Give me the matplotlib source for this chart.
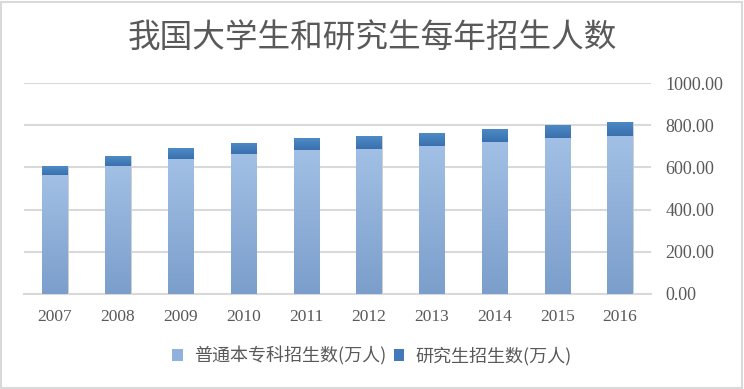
import matplotlib.pyplot as plt
import numpy as np
from matplotlib.patches import Rectangle

plt.rcParams['font.family'] = ['Noto Sans CJK SC', 'DejaVu Sans']

years = ['2007', '2008', '2009', '2010', '2011', '2012', '2013', '2014', '2015', '2016']
undergrad = [565.9, 607.7, 639.5, 661.8, 681.5, 688.8, 699.8, 721.4, 737.8, 748.6]
graduate = [41.9, 44.6, 51.1, 53.8, 56.0, 59.0, 61.1, 62.1, 64.5, 66.7]
yticks = [0, 200, 400, 600, 800, 1000]

fig = plt.figure(figsize=(7.44, 3.89), dpi=100)
ax = fig.add_axes([23.6 / 744, 1 - 294 / 389, (651.4 - 23.6) / 744, 211 / 389])

x = np.arange(len(years))
w = 0.4
b1 = ax.bar(x, undergrad, w, color='#8fb1dc', zorder=3, label='普通本专科招生数(万人)')
b2 = ax.bar(x, graduate, w, bottom=undergrad, color='#4279b8', zorder=3, label='研究生招生数(万人)')

# vertical gradients clipped to each bar
def fill_grad(bars, top, bot):
    grad = np.linspace(0, 1, 100).reshape(-1, 1)
    c1 = np.array(plt.matplotlib.colors.to_rgb(top))
    c2 = np.array(plt.matplotlib.colors.to_rgb(bot))
    img = c1 * (1 - grad[..., None]) + c2 * grad[..., None]
    for b in bars:
        x0, y0 = b.get_x(), b.get_y()
        bw, bh = b.get_width(), b.get_height()
        # soft shadow
        ax.add_patch(Rectangle((x0 + 0.02, y0), bw, bh, color='#cfcfcf', zorder=2, lw=0))
        im = ax.imshow(img, extent=[x0, x0 + bw, y0, y0 + bh], aspect='auto', zorder=3.5)
        im.set_clip_path(b)

fill_grad(b1, '#a2c0e5', '#7b9ecb')
fill_grad(b2, '#4d8bc6', '#3a70ae')

ax.set_xlim(-0.5, len(years) - 0.5)
ax.set_ylim(0, 1000)
ax.set_yticks(yticks)
ax.set_yticklabels(['%.2f' % v for v in yticks], family=['Liberation Serif'], fontsize=13, color='#595959')
ax.yaxis.tick_right()
ax.set_xticks(x)
ax.set_xticklabels(years, family=['Liberation Serif'], fontsize=12.5, color='#595959')
ax.tick_params(length=0, axis='y', pad=10)
ax.tick_params(length=0, axis='x', pad=11)
ax.grid(axis='y', color='#d9d9d9', lw=1.5, zorder=0)
for s in ['top', 'left', 'right']:
    ax.spines[s].set_visible(False)
ax.spines['bottom'].set_color('#d9d9d9')
ax.spines['bottom'].set_linewidth(1.5)

fig.text(0.5, 1 - 38 / 389, '我国大学生和研究生每年招生人数', ha='center', va='center',
         fontsize=23.5, color='#595959')

leg = fig.legend(handles=[b1, b2], loc='center', bbox_to_anchor=(0.5, 1 - 356 / 389),
                 ncol=2, frameon=False, fontsize=13, handlelength=0.6, handleheight=0.6,
                 handletextpad=0.6, columnspacing=0.4)
for t in leg.get_texts():
    t.set_color('#595959')

fig.patches.append(Rectangle((0.002, 0.003), 0.995, 0.993, transform=fig.transFigure,
                             fill=False, ec='#d9d9d9', lw=1.5))

fig.savefig('out.png', dpi=100)
